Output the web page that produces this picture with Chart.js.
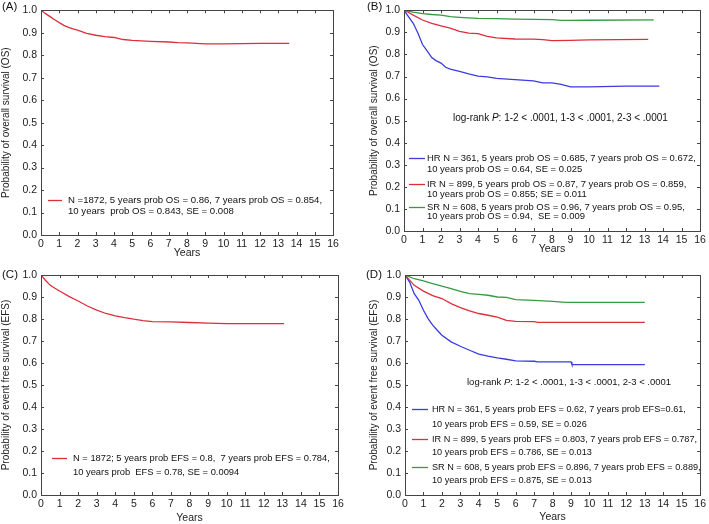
<!DOCTYPE html>
<html>
<head>
<meta charset="utf-8">
<script src="https://cdn.jsdelivr.net/npm/chart.js@4.4.0/dist/chart.umd.min.js"></script>
<style>
  body { margin: 0; background: #fff; }
  .panel { position: absolute; }
</style>
</head>
<body>
<div class="panel" style="left:0;top:0"><canvas id="chartA" width="354" height="262"></canvas></div>
<div class="panel" style="left:354px;top:0"><canvas id="chartB" width="355" height="262"></canvas></div>
<div class="panel" style="left:0;top:262px"><canvas id="chartC" width="354" height="262"></canvas></div>
<div class="panel" style="left:354px;top:262px"><canvas id="chartD" width="355" height="262"></canvas></div>
<script>
// ---- data (years, probability) ----
const yearsA = [0, 0.25, 0.5, 0.75, 1, 1.25, 1.5, 1.75, 2, 2.5, 3, 3.5, 4, 4.5, 5, 6, 7, 7.5, 8, 9, 10, 11, 12, 13.6];
const osAll  = [1.0, 0.985, 0.972, 0.958, 0.945, 0.933, 0.924, 0.917, 0.912, 0.897, 0.889, 0.883, 0.879, 0.870, 0.866, 0.862, 0.859, 0.856, 0.855, 0.851, 0.851, 0.852, 0.853, 0.853];

const yearsB_SR = [0, 0.5, 1, 1.5, 2, 2.5, 3, 4, 5, 6, 7, 8, 8.5, 9, 10, 13.5];
const osSR      = [1.0, 0.992, 0.985, 0.981, 0.978, 0.971, 0.968, 0.963, 0.962, 0.960, 0.959, 0.958, 0.954, 0.954, 0.955, 0.957];
const yearsB_IR = [0, 0.25, 0.5, 1, 1.5, 2, 2.5, 3, 3.5, 4, 4.5, 5, 6, 7, 7.5, 8, 9, 10, 13.2];
const osIR      = [1.0, 0.99, 0.978, 0.956, 0.941, 0.929, 0.919, 0.905, 0.897, 0.894, 0.882, 0.875, 0.870, 0.869, 0.867, 0.863, 0.864, 0.866, 0.868];
const yearsB_HR = [0, 0.25, 0.5, 0.75, 1, 1.25, 1.5, 1.75, 2, 2.25, 2.5, 3, 3.5, 4, 4.5, 5, 6, 7, 7.5, 8, 8.5, 9, 10, 12, 13.8];
const osHR      = [1.0, 0.97, 0.941, 0.897, 0.845, 0.816, 0.786, 0.771, 0.761, 0.742, 0.734, 0.723, 0.712, 0.702, 0.698, 0.692, 0.686, 0.680, 0.671, 0.671, 0.664, 0.653, 0.653, 0.656, 0.656];

const yearsC = [0, 0.25, 0.5, 0.75, 1, 1.5, 2, 2.5, 3, 3.5, 4, 4.5, 5, 5.5, 6, 7, 8, 9, 10, 13.1];
const efsAll = [1.0, 0.975, 0.953, 0.94, 0.927, 0.903, 0.882, 0.859, 0.840, 0.825, 0.814, 0.806, 0.799, 0.793, 0.788, 0.787, 0.784, 0.781, 0.779, 0.779];

const yearsD_SR = [0, 0.5, 1, 1.5, 2, 2.5, 3, 3.5, 4, 4.5, 5, 5.5, 6, 7, 8, 8.7, 9, 13];
const efsSR     = [1.0, 0.983, 0.973, 0.961, 0.949, 0.938, 0.926, 0.915, 0.912, 0.908, 0.900, 0.898, 0.888, 0.885, 0.880, 0.876, 0.876, 0.876];
const yearsD_IR = [0, 0.5, 1, 1.5, 2, 2.5, 3, 3.5, 4, 4.5, 5, 5.5, 6, 7, 7.2, 8, 13];
const efsIR     = [1.0, 0.953, 0.927, 0.906, 0.893, 0.870, 0.852, 0.837, 0.825, 0.817, 0.809, 0.794, 0.789, 0.788, 0.785, 0.785, 0.785];
const yearsD_HR = [0, 0.25, 0.5, 0.75, 1, 1.25, 1.5, 1.75, 2, 2.5, 3, 3.5, 4, 4.5, 5, 5.5, 6, 7, 7.2, 9, 9.05, 13];
const efsHR     = [1.0, 0.968, 0.915, 0.885, 0.840, 0.802, 0.772, 0.749, 0.726, 0.696, 0.676, 0.658, 0.640, 0.631, 0.623, 0.617, 0.610, 0.608, 0.605, 0.605, 0.593, 0.593];

// ---- texts ----
const legendA = [["N =1872, 5 years prob OS = 0.86, 7 years prob OS = 0.854,", "10 years  prob OS = 0.843, SE = 0.008"]];
const legendB = [
  ["HR N = 361, 5 years prob OS = 0.685, 7 years prob OS = 0.672,", "10 years prob OS = 0.64, SE = 0.025"],
  ["IR N = 899, 5 years prob OS = 0.87, 7 years prob OS = 0.859,", "10 years prob OS = 0.855; SE = 0.011"],
  ["SR N = 608, 5 years prob OS = 0.96, 7 years prob OS = 0.95,", "10 years prob OS = 0.94,  SE = 0.009"]
];
const legendC = [["N = 1872; 5 years prob EFS = 0.8,  7 years prob EFS = 0.784,", "10 years prob  EFS = 0.78, SE = 0.0094"]];
const legendD = [
  ["HR N = 361, 5 years prob EFS = 0.62, 7 years prob EFS=0.61,", "10 years prob EFS = 0.59, SE = 0.026"],
  ["IR N = 899, 5 years prob EFS = 0.803, 7 years prob EFS = 0.787,", "10 years prob EFS = 0.786, SE = 0.013"],
  ["SR N = 608, 5 years prob EFS = 0.896, 7 years prob EFS = 0.889,", "10 years prob EFS = 0.875, SE = 0.013"]
];
const logRank = ["log-rank ", "P", ": 1-2 < .0001, 1-3 < .0001, 2-3 < .0001"];

const RED = '#dc2f3a', BLUE = '#3b3be0', GREEN = '#359a44';
const FONT = "'Liberation Sans', Arial, Helvetica, sans-serif";

Chart.defaults.font.family = FONT;
Chart.defaults.color = '#222';

function xy(xs, ys) {
  return xs.map((x, i) => ({ x: x, y: ys[i] }));
}

function curve(xs, ys, color) {
  return {
    data: xy(xs, ys),
    borderColor: color,
    borderWidth: 1.3,
    pointRadius: 0,
    tension: 0,
    fill: false
  };
}

// frame, inward ticks, panel letter, legend and log-rank text
function framePlugin(lay) {
  return {
    id: 'frame',
    afterDatasetsDraw(chart) {
      const { ctx, chartArea: a, scales: { x, y } } = chart;
      const ox = lay.origin[0], oy = lay.origin[1];
      ctx.save();
      ctx.strokeStyle = '#444';
      ctx.lineWidth = 1;
      ctx.strokeRect(Math.round(a.left) + 0.5, Math.round(a.top) + 0.5,
                     Math.round(a.right - a.left), Math.round(a.bottom - a.top));
      ctx.beginPath();
      x.ticks.forEach(t => {
        const px = Math.round(x.getPixelForValue(t.value)) + 0.5;
        ctx.moveTo(px, a.bottom); ctx.lineTo(px, a.bottom - 3);
        ctx.moveTo(px, a.top); ctx.lineTo(px, a.top + 3);
      });
      y.ticks.forEach(t => {
        const py = Math.round(y.getPixelForValue(t.value)) + 0.5;
        ctx.moveTo(a.left, py); ctx.lineTo(a.left + 3, py);
        ctx.moveTo(a.right, py); ctx.lineTo(a.right - 3, py);
      });
      ctx.stroke();

      ctx.fillStyle = '#111';
      ctx.textBaseline = 'middle';
      ctx.textAlign = 'left';
      ctx.font = '11.5px ' + FONT;
      ctx.fillText(lay.label, lay.labelPos[0] - ox, lay.labelPos[1] - oy);

      ctx.font = lay.legendSize + 'px ' + FONT;
      lay.legend.forEach((lines, i) => {
        const rows = lay.legendY[i];
        ctx.strokeStyle = lay.colors[i];
        ctx.lineWidth = 1.3;
        ctx.beginPath();
        ctx.moveTo(lay.sample[0] - ox, rows[0] - oy + 0.5);
        ctx.lineTo(lay.sample[1] - ox, rows[0] - oy + 0.5);
        ctx.stroke();
        lines.forEach((s, j) => ctx.fillText(s, lay.textX - ox, rows[j] - oy));
      });

      if (lay.logrank) {
        let tx = lay.logrank[0] - ox;
        const ty = lay.logrank[1] - oy;
        logRank.forEach((s, i) => {
          ctx.font = (i === 1 ? 'italic ' : '') + lay.logrank[2] + 'px ' + FONT;
          ctx.fillText(s, tx, ty);
          tx += ctx.measureText(s).width;
        });
      }
      ctx.restore();
    }
  };
}

function makePanel(canvasId, lay, datasets, yTitle) {
  const W = lay.size[0], H = lay.size[1];
  const ox = lay.origin[0], oy = lay.origin[1];
  const half = 10.5 * 1.2 / 2;
  new Chart(document.getElementById(canvasId), {
    type: 'line',
    data: { datasets: datasets },
    options: {
      responsive: false,
      animation: false,
      layout: { padding: { top: lay.area.t - oy, right: ox + W - lay.area.r, left: 0, bottom: 0 } },
      plugins: { legend: { display: false }, tooltip: { enabled: false } },
      scales: {
        x: {
          type: 'linear', min: 0, max: 16,
          grid: { display: false, drawTicks: false },
          border: { display: false },
          ticks: { stepSize: 1, padding: 3, font: { size: 10.5 }, color: '#222' },
          title: { display: true, text: 'Years', font: { size: 10.5 }, color: '#222',
                   padding: { top: 0, bottom: Math.max(0, oy + H - lay.yearsY - half) } },
          afterFit: s => { s.height = oy + H - lay.area.b; }
        },
        y: {
          min: 0, max: 1,
          grid: { display: false, drawTicks: false },
          border: { display: false },
          ticks: { stepSize: 0.1, padding: 4, font: { size: 10.5 }, color: '#222',
                   callback: v => v.toFixed(1) },
          title: { display: true, text: yTitle, font: { size: 10 }, color: '#222',
                   padding: { top: Math.max(0, lay.yTitleX - ox - half), bottom: 0 } },
          afterFit: s => { s.width = lay.area.l - ox; }
        }
      }
    },
    plugins: [framePlugin(lay)]
  });
}

makePanel('chartA', {
  origin: [0, 0], size: [354, 262], area: { l: 41, t: 7, r: 333, b: 235 },
  yTitleX: 7, yearsY: 253, label: '(A)', labelPos: [2, 7],
  legend: legendA, legendY: [[200, 211]], colors: [RED], sample: [48, 62], textX: 68, legendSize: 9.6
}, [curve(yearsA, osAll, RED)], 'Probability of overall survival (OS)');

makePanel('chartB', {
  origin: [354, 0], size: [355, 262], area: { l: 404, t: 5, r: 700, b: 231 },
  yTitleX: 375, yearsY: 249, label: '(B)', labelPos: [367, 7],
  legend: legendB, legendY: [[158, 169], [184, 194], [207, 216]], colors: [BLUE, RED, GREEN],
  sample: [409, 425], textX: 427, legendSize: 9.45, logrank: [453, 118, 10]
}, [curve(yearsB_SR, osSR, GREEN), curve(yearsB_IR, osIR, RED), curve(yearsB_HR, osHR, BLUE)],
   'Probability of overall survival (OS)');

makePanel('chartC', {
  origin: [0, 262], size: [354, 262], area: { l: 41, t: 275, r: 338, b: 495 },
  yTitleX: 6, yearsY: 518, label: '(C)', labelPos: [2, 275],
  legend: legendC, legendY: [[458, 472]], colors: [RED], sample: [52, 67], textX: 73, legendSize: 9.35
}, [curve(yearsC, efsAll, RED)], 'Probability of event free survival (EFS)');

makePanel('chartD', {
  origin: [354, 262], size: [355, 262], area: { l: 405, t: 275, r: 703, b: 495 },
  yTitleX: 375, yearsY: 517, label: '(D)', labelPos: [366, 275],
  legend: legendD, legendY: [[409, 424], [439, 452], [467, 480]], colors: [BLUE, RED, GREEN],
  sample: [412, 428], textX: 432, legendSize: 9.15, logrank: [467, 382, 9.5]
}, [curve(yearsD_SR, efsSR, GREEN), curve(yearsD_IR, efsIR, RED), curve(yearsD_HR, efsHR, BLUE)],
   'Probability of event free survival (EFS)');
</script>
</body>
</html>
